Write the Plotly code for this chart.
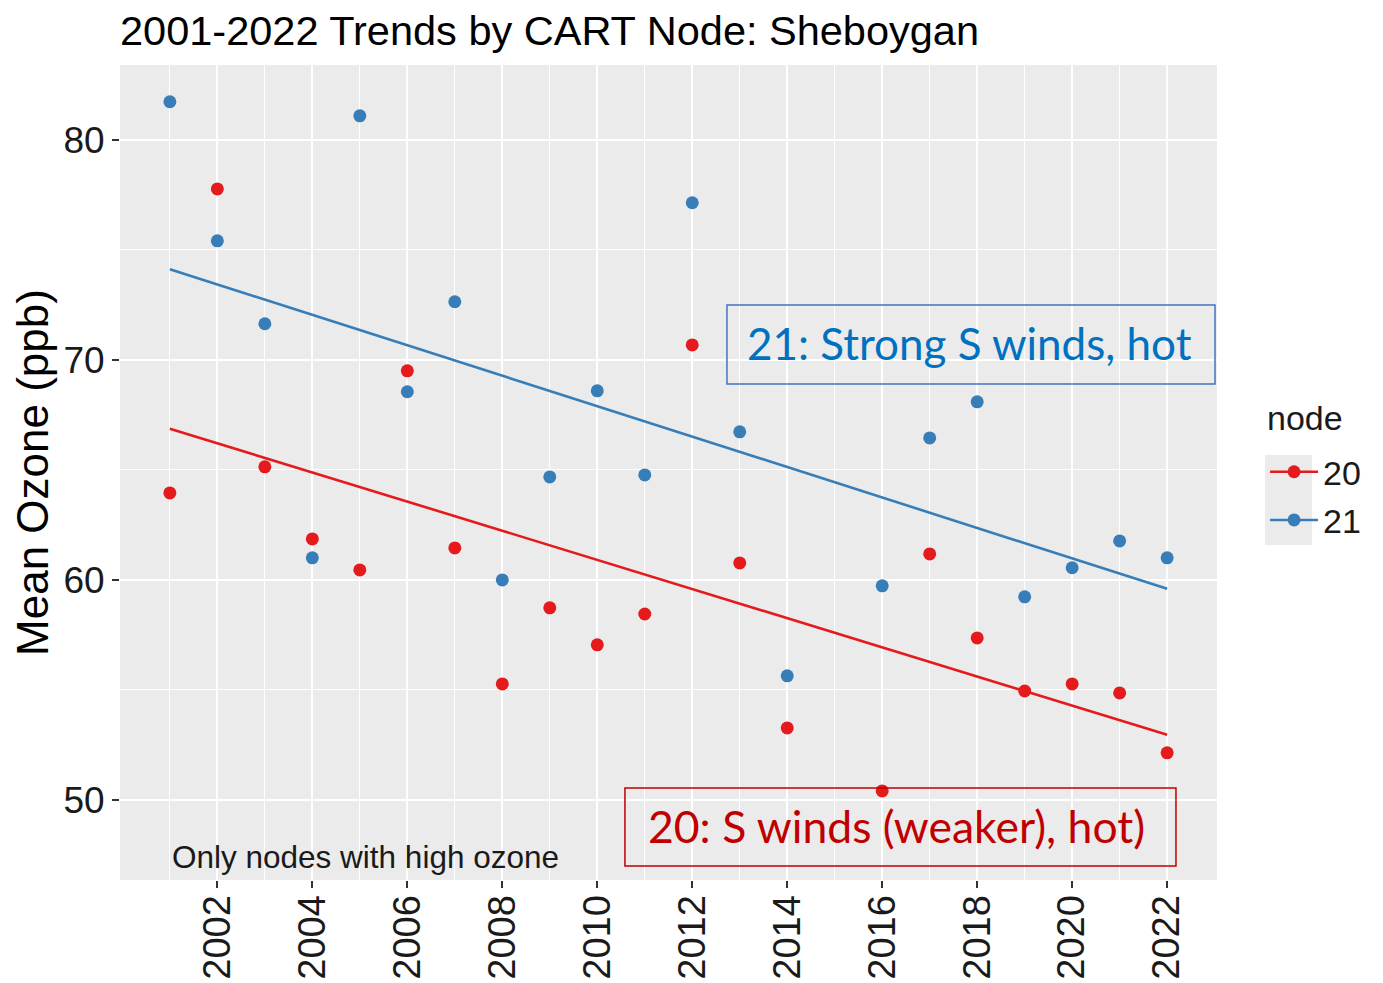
import numpy as np
import plotly.graph_objects as go

# ---------------- data ----------------
years = [2001, 2002, 2003, 2004, 2005, 2006, 2007, 2008, 2009, 2010, 2011,
         2012, 2013, 2014, 2016, 2017, 2018, 2019, 2020, 2021, 2022]
node20 = [63.95, 77.77, 65.14, 61.86, 60.45, 69.50, 61.45, 55.27, 58.73, 57.05, 58.45,
          70.68, 60.77, 53.27, 50.41, 61.18, 57.36, 54.95, 55.27, 54.86, 52.14]
node21 = [81.73, 75.41, 71.64, 61.00, 81.09, 68.55, 72.64, 60.00, 64.68, 68.59, 64.77,
          77.14, 66.73, 55.64, 59.73, 66.45, 68.09, 59.23, 60.55, 61.77, 61.00]
node_names = ["20", "21"]
x_ticks = list(range(2002, 2023, 2))
x_minor = list(range(2001, 2023, 2))
y_ticks = [50, 60, 70, 80]
y_minor = [55, 65, 75]

RED = "#E41A1C"
BLUE = "#377EB8"
FONT = "Liberation Sans, Arial, sans-serif"

fig = go.Figure()
series = [(node_names[0], node20, RED), (node_names[1], node21, BLUE)]
for name, vals, col in series:
    xs = np.array(years, dtype=float)
    ys = np.array(vals, dtype=float)
    slope, icpt = np.polyfit(xs, ys, 1)
    xl = np.array([min(years), max(years)], dtype=float)
    fig.add_trace(go.Scatter(x=xl, y=slope * xl + icpt, mode="lines",
                             line=dict(color=col, width=2.6), showlegend=False,
                             hoverinfo="skip"))
    fig.add_trace(go.Scatter(x=years, y=vals, mode="markers",
                             marker=dict(color=col, size=13), showlegend=False, name=name))
    # legend key
    fig.add_trace(go.Scatter(x=[None], y=[None], mode="lines+markers", name=name,
                             legendgroup=name,
                             line=dict(color=col, width=2.6),
                             marker=dict(color=col, size=13)))

fig.add_annotation(x=2001, y=47.4, xref="x", yref="y", text="Only nodes with high ozone",
                   showarrow=False, xanchor="left", yanchor="middle",
                   font=dict(family=FONT, size=31.5, color="#1a1a1a"))

# overlay boxes
fig.add_shape(type="rect", xref="paper", yref="paper", x0=0.5533, x1=0.9982, y0=0.6086, y1=0.7055,
              line=dict(color="#4472C4", width=1.5), fillcolor="rgba(0,0,0,0)")
fig.add_annotation(xref="paper", yref="paper", x=0.774, y=0.659, text="21: Strong S winds, hot",
                   showarrow=False, xanchor="center", yanchor="middle",
                   font=dict(family="Lato, Open Sans, sans-serif", size=44, color="#0070C0"))
fig.add_shape(type="rect", xref="paper", yref="paper", x0=0.4603, x1=0.9626, y0=0.0172, y1=0.1129,
              line=dict(color="#C00000", width=1.5), fillcolor="rgba(0,0,0,0)")
fig.add_annotation(xref="paper", yref="paper", x=0.708, y=0.0663, text="20: S winds (weaker), hot)",
                   showarrow=False, xanchor="center", yanchor="middle",
                   font=dict(family="Lato, Open Sans, sans-serif", size=44.5, color="#C00000"))

# legend key background and title
fig.add_shape(type="rect", xref="paper", yref="paper", x0=1.0438, x1=1.0866, y0=0.411, y1=0.5215,
              line=dict(width=0), fillcolor="#EBEBEB", layer="below")
fig.add_annotation(xref="paper", yref="paper", x=1.0438, y=0.567, text="node",
                   showarrow=False, xanchor="left", yanchor="middle",
                   font=dict(family=FONT, size=34, color="#1a1a1a"))

fig.update_layout(
    width=1375, height=975,
    margin=dict(l=112, r=166, t=57, b=103),
    paper_bgcolor="white", plot_bgcolor="#EBEBEB",
    font=dict(family=FONT, color="#1a1a1a"),
    title=dict(text="2001-2022 Trends by CART Node: Sheboygan", x=112 / 1375, xanchor="left",
               xref="container", y=1 - 22 / 975, yanchor="middle",
               font=dict(family=FONT, size=41.5, color="black")),
    legend=dict(font=dict(size=34), x=1.0438, xanchor="left", y=0.536, yanchor="top",
                bgcolor="rgba(0,0,0,0)", itemwidth=48, tracegroupgap=1),
    xaxis=dict(range=[1999.95, 2023.05], tickvals=x_ticks, tickangle=-90,
               ticks="outside", ticklen=7, tickwidth=2, tickcolor="#333333",
               tickfont=dict(size=38, color="#1a1a1a"), automargin=False,
               ticklabelstandoff=-8,
               showgrid=True, gridcolor="white", gridwidth=2.4, zeroline=False,
               minor=dict(tickvals=x_minor, showgrid=True, gridcolor="white", gridwidth=1.1, ticks=""),
               showline=False),
    yaxis=dict(range=[46.36, 83.4], tickvals=y_ticks, automargin=False,
               ticks="outside", ticklen=7, tickwidth=2, tickcolor="#333333",
               tickfont=dict(size=37, color="#1a1a1a"),
               showgrid=True, gridcolor="white", gridwidth=2.4, zeroline=False,
               minor=dict(tickvals=y_minor, showgrid=True, gridcolor="white", gridwidth=1.1, ticks=""),
               title=dict(text="Mean Ozone (ppb)", font=dict(size=44, color="black"), standoff=14),
               showline=False),
)

fig.write_html("out.html")
